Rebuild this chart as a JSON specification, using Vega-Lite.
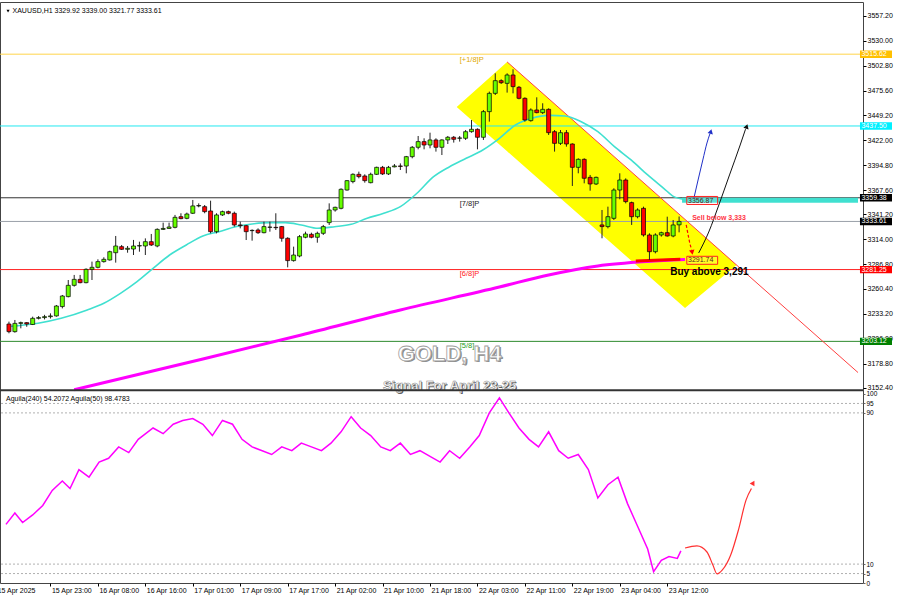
{
"$schema":"https://vega.github.io/schema/vega-lite/v6.json",
"width":863,"height":581,
"autosize":{"type":"none"},
"padding":{"left":0,"top":2,"right":37,"bottom":17},
"background":"#ffffff",
"config":{"view":{"stroke":"#444","strokeWidth":1},"font":"Liberation Sans"},
"resolve":{"scale":{"y":"independent","color":"independent","fill":"independent"},"axis":{"y":"independent"}},
"datasets":{
"candles":[
{"i":0,"o":3222.0,"h":3224.6,"l":3211.9,"c":3213.7},
{"i":1,"o":3213.7,"h":3226.4,"l":3212.6,"c":3222.7},
{"i":2,"o":3222.7,"h":3224.6,"l":3217.3,"c":3223.5},
{"i":3,"o":3223.5,"h":3224.0,"l":3219.0,"c":3222.0},
{"i":4,"o":3221.5,"h":3230.0,"l":3220.9,"c":3228.2},
{"i":5,"o":3228.2,"h":3230.7,"l":3227.0,"c":3229.0},
{"i":6,"o":3229.0,"h":3232.0,"l":3227.0,"c":3230.0},
{"i":7,"o":3230.0,"h":3233.6,"l":3228.0,"c":3230.8},
{"i":8,"o":3230.8,"h":3242.7,"l":3230.0,"c":3241.6},
{"i":9,"o":3241.0,"h":3253.6,"l":3239.0,"c":3252.5},
{"i":10,"o":3251.8,"h":3269.9,"l":3251.0,"c":3264.1},
{"i":11,"o":3264.1,"h":3275.4,"l":3262.7,"c":3270.6},
{"i":12,"o":3270.6,"h":3275.4,"l":3266.3,"c":3267.0},
{"i":13,"o":3267.0,"h":3282.6,"l":3266.3,"c":3281.5},
{"i":14,"o":3281.5,"h":3289.9,"l":3269.9,"c":3283.7},
{"i":15,"o":3283.7,"h":3292.4,"l":3282.6,"c":3289.9},
{"i":16,"o":3289.9,"h":3294.6,"l":3288.8,"c":3292.4},
{"i":17,"o":3291.7,"h":3301.8,"l":3291.0,"c":3300.7},
{"i":18,"o":3299.6,"h":3317.8,"l":3288.8,"c":3306.9},
{"i":19,"o":3306.2,"h":3308.0,"l":3302.6,"c":3303.3},
{"i":20,"o":3303.3,"h":3306.9,"l":3299.6,"c":3304.4},
{"i":21,"o":3303.6,"h":3313.5,"l":3297.1,"c":3306.9},
{"i":22,"o":3306.9,"h":3311.6,"l":3300.7,"c":3307.3},
{"i":23,"o":3306.9,"h":3315.2,"l":3297.1,"c":3311.6},
{"i":24,"o":3311.6,"h":3320.0,"l":3306.9,"c":3308.0},
{"i":25,"o":3306.9,"h":3326.1,"l":3305.5,"c":3325.0},
{"i":26,"o":3325.0,"h":3332.3,"l":3324.3,"c":3326.0},
{"i":27,"o":3326.0,"h":3332.3,"l":3325.5,"c":3327.6},
{"i":28,"o":3327.2,"h":3340.7,"l":3326.1,"c":3338.1},
{"i":29,"o":3338.8,"h":3342.5,"l":3336.0,"c":3336.7},
{"i":30,"o":3337.0,"h":3343.2,"l":3336.0,"c":3341.7},
{"i":31,"o":3342.5,"h":3357.0,"l":3341.7,"c":3350.5},
{"i":32,"o":3350.5,"h":3353.3,"l":3349.0,"c":3350.9},
{"i":33,"o":3349.7,"h":3351.5,"l":3342.5,"c":3344.3},
{"i":34,"o":3345.0,"h":3356.2,"l":3320.7,"c":3322.5},
{"i":35,"o":3322.5,"h":3342.5,"l":3320.7,"c":3340.7},
{"i":36,"o":3340.7,"h":3345.4,"l":3339.6,"c":3344.3},
{"i":37,"o":3344.3,"h":3345.4,"l":3341.4,"c":3342.5},
{"i":38,"o":3342.5,"h":3344.3,"l":3328.0,"c":3329.8},
{"i":39,"o":3329.8,"h":3333.4,"l":3326.1,"c":3329.0},
{"i":40,"o":3329.0,"h":3329.8,"l":3313.4,"c":3322.5},
{"i":41,"o":3323.6,"h":3325.0,"l":3312.7,"c":3323.9},
{"i":42,"o":3324.3,"h":3326.1,"l":3320.0,"c":3321.4},
{"i":43,"o":3321.4,"h":3333.4,"l":3320.7,"c":3328.0},
{"i":44,"o":3327.2,"h":3333.4,"l":3322.5,"c":3327.5},
{"i":45,"o":3327.2,"h":3342.5,"l":3324.3,"c":3326.8},
{"i":46,"o":3328.0,"h":3328.7,"l":3311.6,"c":3315.3},
{"i":47,"o":3315.3,"h":3316.4,"l":3283.7,"c":3291.0},
{"i":48,"o":3291.0,"h":3306.2,"l":3289.9,"c":3297.1},
{"i":49,"o":3296.0,"h":3318.9,"l":3294.6,"c":3317.1},
{"i":50,"o":3316.4,"h":3322.5,"l":3315.3,"c":3320.0},
{"i":51,"o":3319.6,"h":3321.4,"l":3315.3,"c":3316.4},
{"i":52,"o":3316.4,"h":3322.5,"l":3310.5,"c":3320.7},
{"i":53,"o":3320.7,"h":3329.8,"l":3318.9,"c":3328.0},
{"i":54,"o":3332.3,"h":3353.3,"l":3329.8,"c":3346.1},
{"i":55,"o":3346.1,"h":3349.7,"l":3344.3,"c":3349.0},
{"i":56,"o":3347.9,"h":3369.7,"l":3346.8,"c":3368.6},
{"i":57,"o":3367.8,"h":3378.7,"l":3367.1,"c":3378.0},
{"i":58,"o":3377.0,"h":3386.0,"l":3375.1,"c":3384.9},
{"i":59,"o":3384.9,"h":3387.8,"l":3380.5,"c":3382.4},
{"i":60,"o":3383.1,"h":3384.9,"l":3375.8,"c":3378.0},
{"i":61,"o":3375.8,"h":3386.7,"l":3375.1,"c":3384.9},
{"i":62,"o":3384.9,"h":3393.2,"l":3384.2,"c":3392.5},
{"i":63,"o":3392.5,"h":3394.0,"l":3384.2,"c":3385.3},
{"i":64,"o":3385.3,"h":3394.0,"l":3384.2,"c":3392.5},
{"i":65,"o":3393.0,"h":3396.1,"l":3392.5,"c":3394.0},
{"i":66,"o":3394.0,"h":3396.8,"l":3389.6,"c":3393.5},
{"i":67,"o":3393.9,"h":3404.9,"l":3386.0,"c":3404.1},
{"i":68,"o":3404.1,"h":3415.7,"l":3402.3,"c":3414.3},
{"i":69,"o":3414.3,"h":3426.6,"l":3412.1,"c":3420.5},
{"i":70,"o":3420.5,"h":3424.1,"l":3412.1,"c":3416.8},
{"i":71,"o":3416.8,"h":3430.2,"l":3413.2,"c":3422.3},
{"i":72,"o":3422.3,"h":3424.1,"l":3409.6,"c":3414.3},
{"i":73,"o":3414.3,"h":3423.0,"l":3405.9,"c":3422.3},
{"i":74,"o":3422.3,"h":3426.6,"l":3417.9,"c":3425.2},
{"i":75,"o":3425.2,"h":3426.6,"l":3419.4,"c":3423.0},
{"i":76,"o":3424.1,"h":3426.6,"l":3420.5,"c":3424.5},
{"i":77,"o":3424.1,"h":3433.1,"l":3422.3,"c":3431.3},
{"i":78,"o":3431.3,"h":3444.0,"l":3430.2,"c":3433.9},
{"i":79,"o":3433.9,"h":3434.9,"l":3412.1,"c":3425.2},
{"i":80,"o":3425.2,"h":3454.9,"l":3422.3,"c":3453.1},
{"i":81,"o":3453.1,"h":3474.9,"l":3442.2,"c":3473.0},
{"i":82,"o":3473.0,"h":3494.8,"l":3471.2,"c":3486.8},
{"i":83,"o":3486.8,"h":3488.3,"l":3483.2,"c":3484.6},
{"i":84,"o":3483.9,"h":3494.8,"l":3473.8,"c":3493.0},
{"i":85,"o":3493.0,"h":3499.2,"l":3473.0,"c":3480.3},
{"i":86,"o":3479.6,"h":3481.0,"l":3466.5,"c":3467.6},
{"i":87,"o":3467.6,"h":3468.7,"l":3442.2,"c":3444.0},
{"i":88,"o":3443.3,"h":3456.7,"l":3442.2,"c":3454.9},
{"i":89,"o":3454.9,"h":3468.7,"l":3451.3,"c":3452.0},
{"i":90,"o":3452.0,"h":3462.2,"l":3450.5,"c":3455.6},
{"i":91,"o":3455.6,"h":3456.7,"l":3427.7,"c":3430.2},
{"i":92,"o":3431.3,"h":3433.1,"l":3409.6,"c":3418.6},
{"i":93,"o":3418.6,"h":3433.1,"l":3416.8,"c":3430.2},
{"i":94,"o":3430.2,"h":3433.1,"l":3415.0,"c":3417.9},
{"i":95,"o":3417.9,"h":3418.6,"l":3372.2,"c":3392.5},
{"i":96,"o":3392.5,"h":3402.3,"l":3386.0,"c":3401.2},
{"i":97,"o":3401.2,"h":3402.3,"l":3375.1,"c":3380.6},
{"i":98,"o":3381.6,"h":3384.2,"l":3367.1,"c":3374.4},
{"i":99,"o":3374.4,"h":3382.4,"l":3373.3,"c":3381.6},
{"i":100,"o":3329.8,"h":3346.1,"l":3315.3,"c":3328.0},
{"i":101,"o":3328.0,"h":3349.7,"l":3326.1,"c":3338.8},
{"i":102,"o":3337.0,"h":3369.7,"l":3335.2,"c":3367.8},
{"i":103,"o":3367.8,"h":3386.0,"l":3357.7,"c":3378.7},
{"i":104,"o":3378.7,"h":3380.5,"l":3353.3,"c":3355.2},
{"i":105,"o":3354.1,"h":3355.2,"l":3329.8,"c":3338.8},
{"i":106,"o":3338.8,"h":3347.9,"l":3337.0,"c":3346.1},
{"i":107,"o":3347.9,"h":3349.7,"l":3317.1,"c":3318.9},
{"i":108,"o":3318.9,"h":3320.7,"l":3291.7,"c":3300.7},
{"i":109,"o":3300.7,"h":3320.7,"l":3298.9,"c":3318.9},
{"i":110,"o":3318.9,"h":3322.5,"l":3317.1,"c":3321.4},
{"i":111,"o":3321.4,"h":3338.8,"l":3317.1,"c":3317.8},
{"i":112,"o":3317.8,"h":3335.2,"l":3316.4,"c":3329.8},
{"i":113,"o":3329.92,"h":3339.0,"l":3321.77,"c":3333.61}
],
"cyanMA":[
{"i":0,"p":3219.3},{"i":4.9,"p":3222.8},{"i":8.8,"p":3228.2},{"i":13.2,"p":3237.3},{"i":16,"p":3244.6},{"i":18.8,"p":3255.4},{"i":21.6,"p":3268.1},{"i":24.3,"p":3282.6},{"i":27.1,"p":3297.1},{"i":29.9,"p":3308},{"i":32.7,"p":3317.8},{"i":35.4,"p":3322.5},{"i":38.2,"p":3327.9},{"i":41,"p":3330.9},{"i":43.8,"p":3332.3},{"i":46.6,"p":3332.3},{"i":49.3,"p":3329.8},{"i":52.1,"p":3326.2},{"i":54.9,"p":3327.9},{"i":57.7,"p":3330.5},{"i":60.4,"p":3337.1},{"i":63.2,"p":3342.5},{"i":66,"p":3349.7},{"i":68.8,"p":3364.3},{"i":71.6,"p":3382.3},{"i":74.3,"p":3393.2},{"i":77.1,"p":3402.3},{"i":79.9,"p":3411.4},{"i":82.7,"p":3424.1},{"i":85.4,"p":3438.6},{"i":88.2,"p":3445.9},{"i":91,"p":3449},{"i":93.8,"p":3448.4},{"i":96.5,"p":3442.2},{"i":99.3,"p":3431.3},{"i":102.1,"p":3415},{"i":104.9,"p":3400.5},{"i":107.7,"p":3384.2},{"i":110.4,"p":3369.7},{"i":112.1,"p":3360.6},{"i":113.8,"p":3357.7}
],
"magMA":[
{"i":11,"p":3150.5},{"i":32.7,"p":3183.9},{"i":49.3,"p":3210.1},{"i":66,"p":3237.3},{"i":82.7,"p":3262.3},{"i":91,"p":3275.4},{"i":99.3,"p":3285.2},{"i":107.7,"p":3290.1},{"i":114,"p":3292.2}
],
"osc":[
{"i":-0.5,"v":31},{"i":1,"v":37},{"i":2.3,"v":32},{"i":4,"v":36},{"i":5.7,"v":41},{"i":7.3,"v":49},{"i":9,"v":54},{"i":10.3,"v":50},{"i":11.8,"v":60},{"i":13.5,"v":56},{"i":15.2,"v":64},{"i":16.8,"v":66},{"i":18.5,"v":72},{"i":20.2,"v":69},{"i":21.8,"v":76},{"i":24.3,"v":82},{"i":26,"v":79},{"i":27.7,"v":84},{"i":29.3,"v":86},{"i":31,"v":87},{"i":32.7,"v":84},{"i":34.3,"v":78},{"i":36,"v":86},{"i":37.7,"v":84},{"i":39.3,"v":76},{"i":41,"v":72},{"i":42.7,"v":70},{"i":44.3,"v":68},{"i":46,"v":72},{"i":47.7,"v":70},{"i":49.3,"v":74},{"i":51,"v":72},{"i":52.7,"v":70},{"i":54.3,"v":74},{"i":56,"v":80},{"i":57.7,"v":88},{"i":59.3,"v":82},{"i":61,"v":78},{"i":62.7,"v":72},{"i":64.3,"v":70},{"i":66,"v":74},{"i":67.7,"v":68},{"i":69.3,"v":70},{"i":71,"v":67},{"i":72.7,"v":64},{"i":74.3,"v":70},{"i":76,"v":66},{"i":77.7,"v":72},{"i":79.3,"v":78},{"i":81,"v":90},{"i":82.7,"v":98},{"i":84.3,"v":90},{"i":86,"v":82},{"i":87.7,"v":76},{"i":89.3,"v":72},{"i":91,"v":80},{"i":92.7,"v":70},{"i":94.3,"v":66},{"i":96,"v":68},{"i":97.7,"v":60},{"i":99.3,"v":45},{"i":101,"v":52},{"i":102.7,"v":56},{"i":104.3,"v":42},{"i":106,"v":30},{"i":107.7,"v":18},{"i":108.7,"v":6},{"i":110,"v":12},{"i":111.3,"v":14},{"i":112.7,"v":13},{"i":113.3,"v":17}
]
},
"layer":[
{"data":{"values":[{"i":75.5,"top":3458.2,"bot":3458.2},{"i":84,"top":3507.2,"bot":3409.9},{"i":114,"top":3335.7,"bot":3239.5},{"i":122.7,"top":3286.3,"bot":3286.3}]},
 "mark":{"type":"area","color":"#FFFF00","opacity":1},
 "encoding":{"x":{"field":"i","type":"quantitative","scale":{"domain":[-0.667,143.167],"nice":false,"zero":false}},
 "y":{"field":"top","type":"quantitative","scale":{"domain":[2940.2,3572.4],"nice":false,"zero":false},"axis":null},"y2":{"field":"bot"}}},
{"data":{"values":[{"p":3515.62,"n":"a"},{"p":3437.5,"n":"b"},{"p":3359.38,"n":"c"},{"p":3333.61,"n":"d"},{"p":3281.25,"n":"e"},{"p":3203.12,"n":"f"}]},
 "mark":{"type":"rule","strokeWidth":1},
 "encoding":{"y":{"field":"p","type":"quantitative","scale":{"domain":[2940.2,3572.4],"nice":false,"zero":false},"axis":null},
 "color":{"field":"n","type":"nominal","scale":{"domain":["a","b","c","d","e","f"],"range":["#FFD54A","#22E8F0","#333333","#9AA0A8","#FF2020","#2E8B2E"]},"legend":null}}},
{"data":{"values":[{"i0":113.5,"i1":143.17,"p0":3354,"p1":3359.3}]},
 "mark":{"type":"rect","color":"#40E0D0"},
 "encoding":{"x":{"field":"i0","type":"quantitative","scale":{"domain":[-0.667,143.167],"nice":false,"zero":false}},"x2":{"field":"i1"},
 "y":{"field":"p0","type":"quantitative","scale":{"domain":[2940.2,3572.4],"nice":false,"zero":false},"axis":null},"y2":{"field":"p1"}}},
{"data":{"values":[{"i":84,"p":3507.2},{"i":143.17,"p":3169.2}]},
 "mark":{"type":"line","color":"#FF4040","strokeWidth":1},
 "encoding":{"x":{"field":"i","type":"quantitative","scale":{"domain":[-0.667,143.167],"nice":false,"zero":false}},
 "y":{"field":"p","type":"quantitative","scale":{"domain":[2940.2,3572.4],"nice":false,"zero":false},"axis":null}}},
{"data":{"name":"cyanMA"},
 "mark":{"type":"line","color":"#40E0D0","strokeWidth":1.6,"interpolate":"monotone"},
 "encoding":{"x":{"field":"i","type":"quantitative","scale":{"domain":[-0.667,143.167],"nice":false,"zero":false}},
 "y":{"field":"p","type":"quantitative","scale":{"domain":[2940.2,3572.4],"nice":false,"zero":false},"axis":null}}},
{"data":{"name":"magMA"},
 "mark":{"type":"line","color":"#FF00FF","strokeWidth":3,"interpolate":"monotone"},
 "encoding":{"x":{"field":"i","type":"quantitative","scale":{"domain":[-0.667,143.167],"nice":false,"zero":false}},
 "y":{"field":"p","type":"quantitative","scale":{"domain":[2940.2,3572.4],"nice":false,"zero":false},"axis":null}}},
{"data":{"values":[{"i":105.7,"p":3290.6},{"i":113.2,"p":3292.6}]},
 "mark":{"type":"line","color":"#FF0000","strokeWidth":3},
 "encoding":{"x":{"field":"i","type":"quantitative","scale":{"domain":[-0.667,143.167],"nice":false,"zero":false}},
 "y":{"field":"p","type":"quantitative","scale":{"domain":[2940.2,3572.4],"nice":false,"zero":false},"axis":null}}},
{"data":{"name":"candles"},
 "mark":{"type":"rule","color":"#222","strokeWidth":1},
 "encoding":{"x":{"field":"i","type":"quantitative","scale":{"domain":[-0.667,143.167],"nice":false,"zero":false}},
 "y":{"field":"l","type":"quantitative","scale":{"domain":[2940.2,3572.4],"nice":false,"zero":false},
  "axis":{"orient":"right","title":null,"values":[3557.2,3530,3502.8,3475.6,3449.2,3422,3394.8,3367.6,3341.2,3314,3286.8,3260.4,3233.2,3206,3178.8,3152.4],"format":".2f","grid":false,"domain":false,"ticks":true,"tickSize":3,"tickColor":"#000","labels":true,"labelFont":"Liberation Sans","labelFontSize":7,"labelColor":"#000","labelPadding":1,"labelOverlap":false,"labelFlush":false}},
 "y2":{"field":"h"}}},
{"data":{"name":"candles"},
 "mark":{"type":"bar","width":4,"stroke":"#000","strokeWidth":0.7},
 "encoding":{"x":{"field":"i","type":"quantitative","scale":{"domain":[-0.667,143.167],"nice":false,"zero":false}},
 "y":{"field":"o","type":"quantitative","scale":{"domain":[2940.2,3572.4],"nice":false,"zero":false},"axis":null},
 "y2":{"field":"c"},
 "fill":{"condition":{"test":"datum.c >= datum.o","value":"#66FF00"},"value":"#FF0000"}}},
{"data":{"values":[{"i":115.5,"p":3359.1},{"i":116.2,"p":3378.7},{"i":117,"p":3400.5},{"i":117.7,"p":3419},{"i":118.2,"p":3429}]},
 "mark":{"type":"line","color":"#2030C8","strokeWidth":1,"interpolate":"monotone"},
 "encoding":{"x":{"field":"i","type":"quantitative","scale":{"domain":[-0.667,143.167],"nice":false,"zero":false}},
 "y":{"field":"p","type":"quantitative","scale":{"domain":[2940.2,3572.4],"nice":false,"zero":false},"axis":null}}},
{"data":{"values":[{"i":116.3,"p":3299.3},{"i":118,"p":3322.1},{"i":119.7,"p":3351.5},{"i":121.5,"p":3384.2},{"i":123.3,"p":3416.8},{"i":124.2,"p":3434}]},
 "mark":{"type":"line","color":"#111","strokeWidth":1,"interpolate":"monotone"},
 "encoding":{"x":{"field":"i","type":"quantitative","scale":{"domain":[-0.667,143.167],"nice":false,"zero":false}},
 "y":{"field":"p","type":"quantitative","scale":{"domain":[2940.2,3572.4],"nice":false,"zero":false},"axis":null}}},
{"data":{"values":[{"i":114.2,"p":3329.8},{"i":114.8,"p":3310},{"i":115.1,"p":3303}]},
 "mark":{"type":"line","color":"#FF0000","strokeWidth":1.2,"strokeDash":[3,2]},
 "encoding":{"x":{"field":"i","type":"quantitative","scale":{"domain":[-0.667,143.167],"nice":false,"zero":false}},
 "y":{"field":"p","type":"quantitative","scale":{"domain":[2940.2,3572.4],"nice":false,"zero":false},"axis":null}}},
{"data":{"values":[{"i":118.35,"p":3431.5}]},
 "mark":{"type":"point","shape":"triangle-up","filled":true,"color":"#2030C8","size":30,"angle":15,"opacity":1},
 "encoding":{"x":{"field":"i","type":"quantitative","scale":{"domain":[-0.667,143.167],"nice":false,"zero":false}},
 "y":{"field":"p","type":"quantitative","scale":{"domain":[2940.2,3572.4],"nice":false,"zero":false},"axis":null}}},
{"data":{"values":[{"i":124.4,"p":3437}]},
 "mark":{"type":"point","shape":"triangle-up","filled":true,"color":"#111","size":30,"angle":18,"opacity":1},
 "encoding":{"x":{"field":"i","type":"quantitative","scale":{"domain":[-0.667,143.167],"nice":false,"zero":false}},
 "y":{"field":"p","type":"quantitative","scale":{"domain":[2940.2,3572.4],"nice":false,"zero":false},"axis":null}}},
{"data":{"values":[{"i":115.2,"p":3300}]},
 "mark":{"type":"point","shape":"triangle-down","filled":true,"color":"#FF0000","size":30,"angle":-10,"opacity":1},
 "encoding":{"x":{"field":"i","type":"quantitative","scale":{"domain":[-0.667,143.167],"nice":false,"zero":false}},
 "y":{"field":"p","type":"quantitative","scale":{"domain":[2940.2,3572.4],"nice":false,"zero":false},"axis":null}}},
{"data":{"values":[{"i":-0.15,"p":3562.4}]},
 "mark":{"type":"point","shape":"triangle-down","filled":true,"color":"#000","size":10,"opacity":1},
 "encoding":{"x":{"field":"i","type":"quantitative","scale":{"domain":[-0.667,143.167],"nice":false,"zero":false}},
 "y":{"field":"p","type":"quantitative","scale":{"domain":[2940.2,3572.4],"nice":false,"zero":false},"axis":null}}},
{"data":{"values":[{"i":0.6,"p":3562.6,"t":"XAUUSD,H1  3329.92 3339.00 3321.77 3333.61"}]},
 "mark":{"type":"text","align":"left","baseline":"middle","fontSize":7,"color":"#000"},
 "encoding":{"x":{"field":"i","type":"quantitative","scale":{"domain":[-0.667,143.167],"nice":false,"zero":false}},
 "y":{"field":"p","type":"quantitative","scale":{"domain":[2940.2,3572.4],"nice":false,"zero":false},"axis":null},"text":{"field":"t"}}},
{"data":{"values":[{"i":76,"p":3509.3,"t":"[+1/8]P","n":"a"},{"i":76,"p":3352.6,"t":"[7/8]P","n":"c"},{"i":76,"p":3276.4,"t":"[6/8]P","n":"e"},{"i":76,"p":3198.6,"t":"[5/8]","n":"f"}]},
 "mark":{"type":"text","align":"left","baseline":"middle","fontSize":7.5},
 "encoding":{"x":{"field":"i","type":"quantitative","scale":{"domain":[-0.667,143.167],"nice":false,"zero":false}},
 "y":{"field":"p","type":"quantitative","scale":{"domain":[2940.2,3572.4],"nice":false,"zero":false},"axis":null},"text":{"field":"t"},
 "color":{"field":"n","type":"nominal","scale":{"domain":["a","c","e","f"],"range":["#E0A800","#222222","#FF2020","#22A022"]},"legend":null}}},
{"data":{"values":[{"i":74.3,"p":3189.4,"t":"GOLD, H4"}]},
 "mark":{"type":"text","align":"center","baseline":"middle","fontSize":22,"fontWeight":"bold","color":"#8A8A8A","dx":1.5,"dy":1.5},
 "encoding":{"x":{"field":"i","type":"quantitative","scale":{"domain":[-0.667,143.167],"nice":false,"zero":false}},
 "y":{"field":"p","type":"quantitative","scale":{"domain":[2940.2,3572.4],"nice":false,"zero":false},"axis":null},"text":{"field":"t"}}},
{"data":{"values":[{"i":74.3,"p":3189.4,"t":"GOLD, H4"}]},
 "mark":{"type":"text","align":"center","baseline":"middle","fontSize":22,"fontWeight":"bold","color":"#FFFFFF","stroke":"#A0A0A0","strokeWidth":0.8},
 "encoding":{"x":{"field":"i","type":"quantitative","scale":{"domain":[-0.667,143.167],"nice":false,"zero":false}},
 "y":{"field":"p","type":"quantitative","scale":{"domain":[2940.2,3572.4],"nice":false,"zero":false},"axis":null},"text":{"field":"t"}}},
{"data":{"values":[{"i":74.3,"p":3154.6,"t":"Signal For April 23-25"}]},
 "mark":{"type":"text","align":"center","baseline":"middle","fontSize":13,"fontWeight":"bold","color":"#555","dx":1,"dy":1},
 "encoding":{"x":{"field":"i","type":"quantitative","scale":{"domain":[-0.667,143.167],"nice":false,"zero":false}},
 "y":{"field":"p","type":"quantitative","scale":{"domain":[2940.2,3572.4],"nice":false,"zero":false},"axis":null},"text":{"field":"t"}}},
{"data":{"values":[{"i":74.3,"p":3154.6,"t":"Signal For April 23-25"}]},
 "mark":{"type":"text","align":"center","baseline":"middle","fontSize":13,"fontWeight":"bold","color":"#FFFFFF","stroke":"#888","strokeWidth":0.5},
 "encoding":{"x":{"field":"i","type":"quantitative","scale":{"domain":[-0.667,143.167],"nice":false,"zero":false}},
 "y":{"field":"p","type":"quantitative","scale":{"domain":[2940.2,3572.4],"nice":false,"zero":false},"axis":null},"text":{"field":"t"}}},
{"data":{"values":[{"i":115.2,"p":3337.4,"t":"Sell below 3,333"}]},
 "mark":{"type":"text","align":"left","baseline":"middle","fontSize":7,"fontWeight":"bold","color":"#FF3344"},
 "encoding":{"x":{"field":"i","type":"quantitative","scale":{"domain":[-0.667,143.167],"nice":false,"zero":false}},
 "y":{"field":"p","type":"quantitative","scale":{"domain":[2940.2,3572.4],"nice":false,"zero":false},"axis":null},"text":{"field":"t"}}},
{"data":{"values":[{"i":111.5,"p":3278.6,"t":"Buy above 3,291"}]},
 "mark":{"type":"text","align":"left","baseline":"middle","fontSize":10,"fontWeight":"bold","color":"#000"},
 "encoding":{"x":{"field":"i","type":"quantitative","scale":{"domain":[-0.667,143.167],"nice":false,"zero":false}},
 "y":{"field":"p","type":"quantitative","scale":{"domain":[2940.2,3572.4],"nice":false,"zero":false},"axis":null},"text":{"field":"t"}}},
{"data":{"values":[{"i0":114.3,"i1":119.5,"p0":3352.1,"p1":3360.8},{"i0":114.3,"i1":119.5,"p0":3287.0,"p1":3295.7}]},
 "mark":{"type":"rect","fill":"#FFFFFF","fillOpacity":0.15,"stroke":"#FF2020","strokeWidth":1},
 "encoding":{"x":{"field":"i0","type":"quantitative","scale":{"domain":[-0.667,143.167],"nice":false,"zero":false}},"x2":{"field":"i1"},
 "y":{"field":"p0","type":"quantitative","scale":{"domain":[2940.2,3572.4],"nice":false,"zero":false},"axis":null},"y2":{"field":"p1"}}},
{"data":{"values":[{"i":114.5,"p":3356.4,"t":"3356.87"},{"i":114.5,"p":3291.3,"t":"3291.74"}]},
 "mark":{"type":"text","align":"left","baseline":"middle","fontSize":7,"color":"#5A2020"},
 "encoding":{"x":{"field":"i","type":"quantitative","scale":{"domain":[-0.667,143.167],"nice":false,"zero":false}},
 "y":{"field":"p","type":"quantitative","scale":{"domain":[2940.2,3572.4],"nice":false,"zero":false},"axis":null},"text":{"field":"t"}}},
{"data":{"values":[{"i0":143.5,"i1":148.9,"p0":3511.6,"p1":3519.6,"n":"a"},{"i0":143.5,"i1":148.9,"p0":3433.5,"p1":3441.5,"n":"b"},{"i0":143.5,"i1":148.9,"p0":3355.4,"p1":3363.4,"n":"c"},{"i0":143.5,"i1":148.9,"p0":3329.6,"p1":3337.6,"n":"d"},{"i0":143.5,"i1":148.9,"p0":3277.2,"p1":3285.2,"n":"e"},{"i0":143.5,"i1":148.9,"p0":3199.1,"p1":3207.1,"n":"f"}]},
 "mark":{"type":"rect"},
 "encoding":{"x":{"field":"i0","type":"quantitative","scale":{"domain":[-0.667,143.167],"nice":false,"zero":false}},"x2":{"field":"i1"},
 "y":{"field":"p0","type":"quantitative","scale":{"domain":[2940.2,3572.4],"nice":false,"zero":false},"axis":null},"y2":{"field":"p1"},
 "fill":{"field":"n","type":"nominal","scale":{"domain":["a","b","c","d","e","f"],"range":["#FFC000","#00F0FF","#000000","#000000","#FF0000","#008000"]},"legend":null}}},
{"data":{"values":[{"i":143.75,"p":3515.62,"t":"3515.62"},{"i":143.75,"p":3437.5,"t":"3437.50"},{"i":143.75,"p":3359.38,"t":"3359.38"},{"i":143.75,"p":3333.61,"t":"3333.61"},{"i":143.75,"p":3281.25,"t":"3281.25"},{"i":143.75,"p":3203.12,"t":"3203.12"}]},
 "mark":{"type":"text","align":"left","baseline":"middle","fontSize":7,"color":"#FFFFFF"},
 "encoding":{"x":{"field":"i","type":"quantitative","scale":{"domain":[-0.667,143.167],"nice":false,"zero":false}},
 "y":{"field":"p","type":"quantitative","scale":{"domain":[2940.2,3572.4],"nice":false,"zero":false},"axis":null},"text":{"field":"t"}}},
{"data":{"values":[{"v":95},{"v":90},{"v":10},{"v":5}]},
 "mark":{"type":"rule","color":"#B0B0B0","strokeWidth":1,"strokeDash":[2,2]},
 "encoding":{"y":{"field":"v","type":"quantitative","scale":{"domain":[0,307.4],"nice":false,"zero":false},"axis":null}}},
{"data":{"name":"osc"},
 "mark":{"type":"line","color":"#FF00FF","strokeWidth":1.5},
 "encoding":{"x":{"field":"i","type":"quantitative","scale":{"domain":[-0.667,143.167],"nice":false,"zero":false},
  "axis":{"orient":"bottom","title":null,"values":[7,15,23,31,39,47,55,63,71,79,87,95,103,111],"labelExpr":"['15 Apr 23:00','16 Apr 08:00','16 Apr 16:00','17 Apr 01:00','17 Apr 09:00','17 Apr 17:00','21 Apr 02:00','21 Apr 10:00','21 Apr 18:00','22 Apr 03:00','22 Apr 11:00','22 Apr 19:00','23 Apr 04:00','23 Apr 12:00'][round((datum.value-7)/8)]","grid":false,"domain":false,"ticks":true,"tickSize":3,"tickColor":"#000","labels":true,"labelFont":"Liberation Sans","labelAlign":"left","labelBaseline":"top","labelPadding":0,"labelOffset":1,"labelFontSize":7,"labelColor":"#000","labelFlush":false,"labelOverlap":false}},
 "y":{"field":"v","type":"quantitative","scale":{"domain":[0,307.4],"nice":false,"zero":false},
  "axis":{"orient":"right","title":null,"values":[0,5,10,90,95,100],"grid":false,"domain":false,"ticks":true,"tickSize":2,"tickColor":"#666","labels":true,"labelFont":"Liberation Sans","labelFontSize":6.5,"labelColor":"#000","labelPadding":1,"labelOverlap":false,"labelFlush":false}}}},
{"data":{"values":[{"i":114,"v":18.5},{"i":116,"v":19.6},{"i":117.7,"v":16.4},{"i":118.7,"v":9.5},{"i":119.4,"v":4.8},{"i":120.3,"v":6.9},{"i":121.7,"v":14.8},{"i":123,"v":28},{"i":124.3,"v":44},{"i":125.2,"v":50}]},
 "mark":{"type":"line","color":"#FF3030","strokeWidth":1.2,"interpolate":"monotone"},
 "encoding":{"x":{"field":"i","type":"quantitative","scale":{"domain":[-0.667,143.167],"nice":false,"zero":false}},
 "y":{"field":"v","type":"quantitative","scale":{"domain":[0,307.4],"nice":false,"zero":false},"axis":null}}},
{"data":{"values":[{"i":125.5,"v":53}]},
 "mark":{"type":"point","shape":"triangle-up","filled":true,"color":"#FF3030","size":30,"angle":30,"opacity":1},
 "encoding":{"x":{"field":"i","type":"quantitative","scale":{"domain":[-0.667,143.167],"nice":false,"zero":false}},
 "y":{"field":"v","type":"quantitative","scale":{"domain":[0,307.4],"nice":false,"zero":false},"axis":null}}},
{"data":{"values":[{"v":102}]},
 "mark":{"type":"rule","color":"#333","strokeWidth":2},
 "encoding":{"y":{"field":"v","type":"quantitative","scale":{"domain":[0,307.4],"nice":false,"zero":false},"axis":null}}},
{"data":{"values":[{"i":-0.5,"v":97.6,"t":"Aguila(240) 54.2072  Aguila(50) 98.4783"},{"i":-1.9,"v":-4.1,"t":"15 Apr 2025"}]},
 "mark":{"type":"text","align":"left","baseline":"middle","fontSize":7,"color":"#000"},
 "encoding":{"x":{"field":"i","type":"quantitative","scale":{"domain":[-0.667,143.167],"nice":false,"zero":false}},
 "y":{"field":"v","type":"quantitative","scale":{"domain":[0,307.4],"nice":false,"zero":false},"axis":null},"text":{"field":"t"}}}
]
}
